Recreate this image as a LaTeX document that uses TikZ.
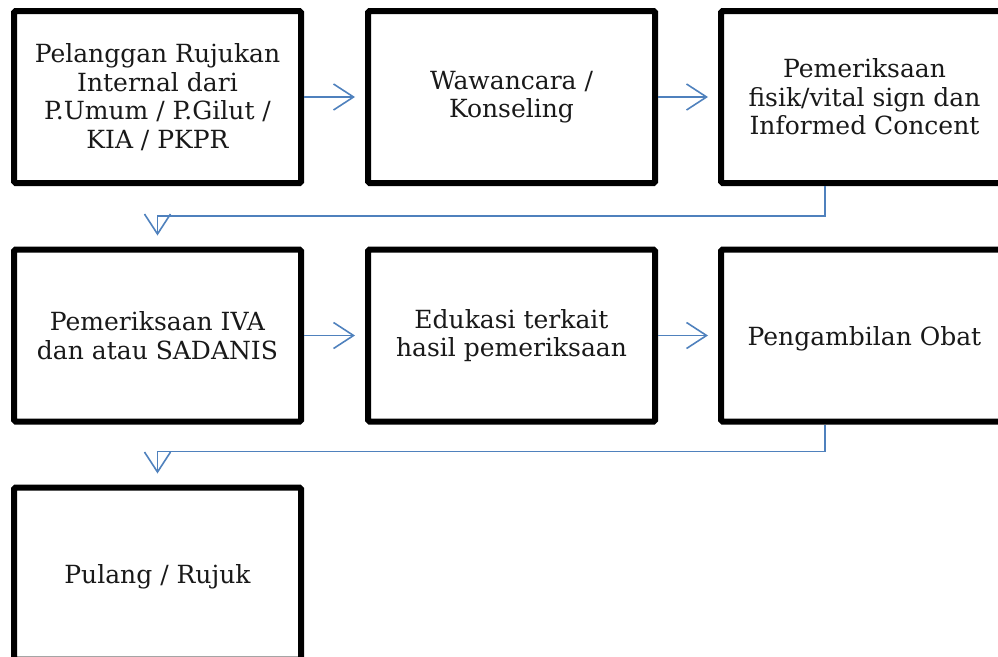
\documentclass[tikz,border=0pt]{standalone}
\usepackage{fontspec}
\setmainfont{DejaVu Serif}
\usetikzlibrary{arrows.meta}
\definecolor{linkblue}{RGB}{79,129,189}
\tikzset{
  stepbox/.style={draw=black, line width=6pt, rounded corners=1.5pt,
    minimum width=287pt, minimum height=172pt, inner sep=0pt,
    align=center, font=\fontsize{25}{28.5}\selectfont, text=black!90,
    execute at begin node={\rule{0pt}{25pt}}},
  flow/.style={draw=linkblue, line width=1.6pt,
    -{Straight Barb[length=20pt,width=26pt,line width=1.6pt]}},
}
\begin{document}
\begin{tikzpicture}[x=1pt,y=1pt]
\useasboundingbox (0,0) rectangle (998,-656);
\clip (0,0) rectangle (998,-656);
\node[stepbox] (b1) at (157.5,-97) {Pelanggan Rujukan\\Internal dari\\P.Umum / P.Gilut /\\KIA / PKPR};
\node[stepbox] (b2) at (511.5,-97) {Wawancara /\\Konseling};
\node[stepbox] (b3) at (864.5,-97) {Pemeriksaan\\fisik/vital sign dan\\Informed Concent};
\node[stepbox] (b4) at (157.5,-335.5) {Pemeriksaan IVA\\dan atau SADANIS};
\node[stepbox] (b5) at (511.5,-335.5) {Edukasi terkait\\hasil pemeriksaan};
\node[stepbox] (b6) at (864.5,-335.5) {Pengambilan Obat};
\node[stepbox] (b7) at (157.5,-573.5) {Pulang / Rujuk};
\draw[flow] (b1.east) -- ([xshift=-10pt]b2.west);
\draw[flow] (b2.east) -- ([xshift=-10pt]b3.west);
\draw[flow] (b4.east) -- ([xshift=-10pt]b5.west);
\draw[flow] (b5.east) -- ([xshift=-10pt]b6.west);
\coordinate (c1) at ([xshift=-39.5pt]b3.south);
\coordinate (c2) at ([xshift=-39.5pt]b6.south);
\draw[flow] (c1) |- ([yshift=-30pt]b1.south) -- ([yshift=11pt]b4.north);
\draw[flow] (c2) |- ([yshift=-27pt]b4.south) -- ([yshift=11pt]b7.north);
\end{tikzpicture}
\end{document}
